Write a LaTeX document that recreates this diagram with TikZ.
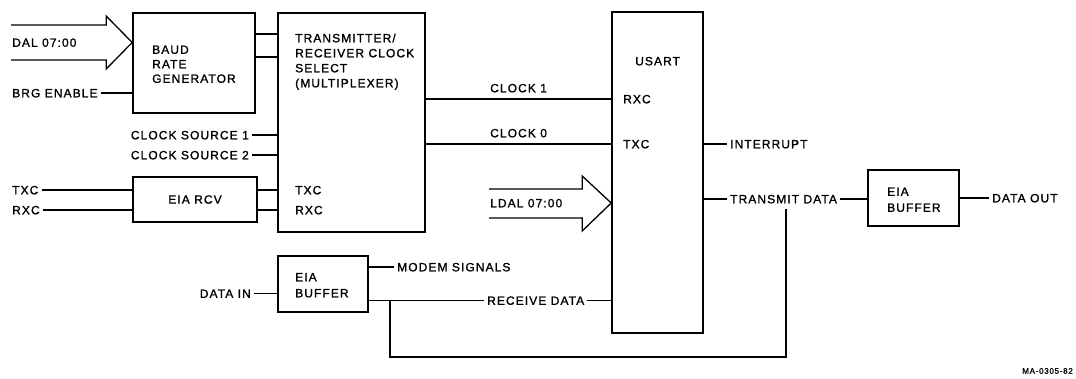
\documentclass[tikz,border=0pt]{standalone}
\usepackage{fontspec}
\setmainfont{Liberation Sans}
\newfontfamily\lblfont[LetterSpace=9,FakeBold=1.3]{Liberation Sans}
\usetikzlibrary{calc}
\begin{document}
\begin{tikzpicture}[x=1pt,y=-1pt,
  box/.style={draw, line width=1.6pt, inner sep=0pt, font=\fontsize{12}{14}\lblfont},
  txt/.style={font=\fontsize{12}{14}\lblfont, inner sep=0pt, text height=8.6pt, text depth=0pt},
  small/.style={font=\fontsize{8}{9}\lblfont, inner sep=0pt},
  wire/.style={line width=1.3pt},
  gapS/.style={shorten <=3pt},
  gapE/.style={shorten >=3pt}]
\useasboundingbox (0,0) rectangle (1076,378);

% boxes
\node[box, minimum width=122pt, minimum height=100pt] (baud) at (194,63) {};
\node[box, minimum width=147pt, minimum height=219pt] (mux) at (351.5,122.5) {};
\node[box, minimum width=124pt, minimum height=45pt] (rcv) at (195,199.5) {EIA RCV};
\node[box, minimum width=91pt, minimum height=321pt] (usart) at (657.5,172.5) {};
\node[box, minimum width=90pt, minimum height=56pt] (buf1) at (323,284) {};
\node[box, minimum width=91pt, minimum height=56pt] (buf2) at (913.5,198) {};

% texts inside boxes
\node[txt, anchor=west] (baudA) at (152,49.5) {BAUD};
\node[txt, anchor=west] (baudB) at (152,64) {RATE};
\node[txt, anchor=west] (baudC) at (152,78.5) {GENERATOR};
\node[txt, anchor=west] (muxA) at (295,38) {TRANSMITTER/};
\node[txt, anchor=west] (muxB) at (295,53) {RECEIVER CLOCK};
\node[txt, anchor=west] (muxC) at (295,68) {SELECT};
\node[txt, anchor=west] (muxD) at (295,83) {(MULTIPLEXER)};
\node[txt, anchor=west] (muxtxc) at (295,190) {TXC};
\node[txt, anchor=west] (muxrxc) at (295,210) {RXC};
\node[txt, anchor=west] (usartT) at (635,61) {USART};
\node[txt, anchor=west] (urxc) at (623,99) {RXC};
\node[txt, anchor=west] (utxc) at (623,144) {TXC};
\node[txt, anchor=west] (bufA1) at (295,277) {EIA};
\node[txt, anchor=west] (bufB1) at (295,293) {BUFFER};
\node[txt, anchor=west] (bufA2) at (887,191.5) {EIA};
\node[txt, anchor=west] (bufB2) at (887,207.5) {BUFFER};

% outside labels
\node[txt, anchor=west] (dal) at (12,42.5) {DAL 07:00};
\node[txt, anchor=west] (brg) at (12,93) {BRG ENABLE};
\node[txt, anchor=east] (cs1) at (249,135) {CLOCK SOURCE 1};
\node[txt, anchor=east] (cs2) at (249,155) {CLOCK SOURCE 2};
\node[txt, anchor=west] (txcin) at (12,190) {TXC};
\node[txt, anchor=west] (rxcin) at (12,210) {RXC};
\node[txt, anchor=west] (clk1) at (490,88) {CLOCK 1};
\node[txt, anchor=west] (clk0) at (490,133) {CLOCK 0};
\node[txt, anchor=west] (ldal) at (490,203) {LDAL 07:00};
\node[txt, anchor=west] (intr) at (730,144) {INTERRUPT};
\node[txt, anchor=west] (txd) at (730,199) {TRANSMIT DATA};
\node[txt, anchor=west] (dout) at (992,198) {DATA OUT};
\node[txt, anchor=east] (datain) at (251,293.5) {DATA IN};
\node[txt, anchor=west] (modem) at (397,267) {MODEM SIGNALS};
\node[txt, anchor=west] (rxd) at (487,300.5) {RECEIVE DATA};
\node[small, anchor=south east] (ma) at (1073,374) {MA-0305-82};

% bus arrows (hollow)
\coordinate (daltip) at (baud.west |- dal);
\draw[wire, line join=miter] ($(daltip)+(-121,-17.5)$) -- ++(95,0) -- ++(0,-9) -- (daltip)
  -- ++(-26,26.5) -- ++(0,-9) -- ++(-95,0);
\coordinate (ldaltip) at (usart.west |- ldal);
\draw[wire, line join=miter] ($(ldaltip)+(-122,-14)$) -- ++(93,0) -- ++(0,-13) -- (ldaltip)
  -- ++(-29,28) -- ++(0,-13) -- ++(-93,0);

% wires
\draw[wire] (baud.east |- 0,34) -- (mux.west |- 0,34);
\draw[wire] (baud.east |- 0,57) -- (mux.west |- 0,57);
\draw[wire, gapS] (brg) -- (brg -| baud.west);
\draw[wire, gapS] (cs1) -- (cs1 -| mux.west);
\draw[wire, gapS] (cs2) -- (cs2 -| mux.west);
\draw[wire, gapS] (txcin) -- (txcin -| rcv.west);
\draw[wire, gapS] (rxcin) -- (rxcin -| rcv.west);
\draw[wire] (rcv.east |- muxtxc) -- (mux.west |- muxtxc);
\draw[wire] (rcv.east |- muxrxc) -- (mux.west |- muxrxc);
\draw[wire] (mux.east |- urxc) -- (usart.west |- urxc);
\draw[wire] (mux.east |- utxc) -- (usart.west |- utxc);
\draw[wire, gapE] (usart.east |- intr) -- (intr);
\draw[wire, gapE] (usart.east |- txd) -- (txd);
\draw[wire, gapS] (txd) -- (txd -| buf2.west);
\draw[wire, gapE] (buf2.east |- dout) -- (dout);
\draw[wire, gapS] (datain) -- (datain -| buf1.west);
\draw[wire, gapE] (buf1.east |- modem) -- (modem);
\draw[wire, gapE] (buf1.east |- rxd) -- (rxd);
\draw[wire, gapS] (rxd) -- (rxd -| usart.west);
\coordinate (lpA) at (786,209);
\coordinate (lpB) at (390,357);
\draw[wire] (lpA) -- (lpA |- lpB) -- (lpB) -- (lpB |- rxd);
\end{tikzpicture}
\end{document}
